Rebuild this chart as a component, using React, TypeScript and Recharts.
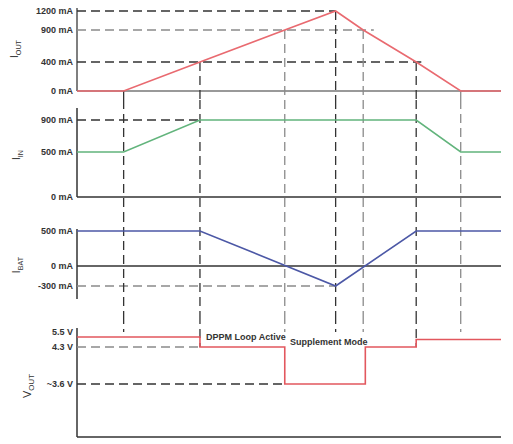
import React from "react";
import { LineChart, Line, XAxis, YAxis, ReferenceLine, ReferenceDot } from "recharts";

// ---------- data ----------
const KEY_TIMES = [11, 29, 49, 61, 67.5, 80, 90.5];
const KEY_DARK = [true, true, false, true, false, true, false];

const IOUT_T = [0, 11, 29, 49, 61, 67.5, 80, 90.5, 100];
const IOUT_V = [0, 0, 400, 900, 1200, 900, 400, 0, 0];

const IIN_T = [0, 11, 29, 80, 90.5, 100];
const IIN_V = [500, 500, 900, 900, 500, 500];

const IBAT_T = [0, 29, 61, 80, 100];
const IBAT_V = [500, 500, -300, 500, 500];

const VOUT_T = [0, 29, 49, 68, 80, 100];
const VOUT_V = [5.1, 4.3, 3.6, 4.3, 4.9, 4.9];

const IOUT_TICKS = [0, 400, 900, 1200];
const IIN_TICKS = [0, 500, 900];
const IBAT_TICKS = [-300, 0, 500];
const VOUT_TICKS = [3.6, 4.3, 5.5];
const VOUT_TICK_LABELS: Record<string, string> = { "3.6": "~3.6 V", "4.3": "4.3 V", "5.5": "5.5 V" };

// ---------- layout ----------
const W = 513;
const LEFT = 77;
const RIGHT = 12;
const FONT = "'Liberation Sans', Arial, sans-serif";
const DARK = "#333333";
const GRAY = "#8a8a8a";
const DASH = "9 5";

type Knot = [number, number]; // [value, page y of that value]

function makePiecewise(knots: Knot[], bandTop: number, bandBot: number) {
  const vals = knots.map((k) => k[0]);
  const fr = knots.map((k) => (bandBot - k[1]) / (bandBot - bandTop));
  const n = vals.length;
  const toFrac = (v: number) => {
    let i = 0;
    while (i < n - 2 && v > vals[i + 1]) i++;
    return fr[i] + ((v - vals[i]) * (fr[i + 1] - fr[i])) / (vals[i + 1] - vals[i]);
  };
  const fromFrac = (f: number) => {
    let i = 0;
    while (i < n - 2 && f > fr[i + 1]) i++;
    return vals[i] + ((f - fr[i]) * (vals[i + 1] - vals[i])) / (fr[i + 1] - fr[i]);
  };
  const create = (dom: number[], rng: number[]): any => {
    const s: any = (v: number) => rng[0] + toFrac(v) * (rng[1] - rng[0]);
    s.domain = (d?: number[]) => {
      if (d === undefined) return dom.slice();
      dom = d.slice();
      return s;
    };
    s.range = (r?: number[]) => {
      if (r === undefined) return rng.slice();
      rng = r.slice();
      return s;
    };
    s.copy = () => create(dom.slice(), rng.slice());
    s.ticks = () => vals.slice();
    s.invert = (px: number) => fromFrac((px - rng[0]) / (rng[1] - rng[0]));
    return s;
  };
  const domain: [number, number] = [fromFrac(0), fromFrac(1)];
  return {
    scale: create(domain.slice(), [1, 0]),
    domain,
    at: (pageY: number) => fromFrac((bandBot - pageY) / (bandBot - bandTop)),
  };
}

const zip = (t: number[], v: number[]) => t.map((tt, i) => ({ t: tt, v: v[i] }));

const tickStyle = { fontSize: 9, fontWeight: 700, fill: DARK, fontFamily: FONT };

function AxisTitle({ x, y, main, sub, size }: { x: number; y: number; main: string; sub: string; size: number }) {
  return (
    <text
      x={x}
      y={y}
      transform={`rotate(-90 ${x} ${y})`}
      textAnchor="middle"
      fontFamily={FONT}
      fontSize={size}
      fill={DARK}
    >
      {main}
      <tspan fontSize={size * 0.72} dy={size * 0.3}>
        {sub}
      </tspan>
    </text>
  );
}

type PanelProps = {
  top: number;
  bottom: number;
  knots: Knot[];
  axisTopY: number;
  axisBottomY: number;
  ticks: number[];
  fmt: (v: number) => string;
  data: { t: number; v: number }[];
  color: string;
  step?: boolean;
  axisColor: string;
  baseColor: string;
  children?: (p: ReturnType<typeof makePiecewise>) => React.ReactNode;
  title: React.ReactNode;
};

function Panel(p: PanelProps) {
  const pw = makePiecewise(p.knots, p.top, p.bottom);
  const h = p.bottom - p.top;
  return (
    <div style={{ position: "absolute", left: 0, top: p.top, width: W, height: h }}>
      <LineChart width={W} height={h} data={p.data} margin={{ top: 0, right: RIGHT, bottom: 0, left: 0 }}>
        <XAxis dataKey="t" type="number" domain={[0, 100]} hide allowDataOverflow />
        <YAxis
          type="number"
          scale={pw.scale}
          domain={pw.domain}
          allowDataOverflow
          ticks={p.ticks}
          tickFormatter={p.fmt}
          tick={tickStyle}
          tickLine={false}
          axisLine={false}
          tickSize={2}
          tickMargin={2}
          width={LEFT}
          interval={0}
        />
        <ReferenceLine y={0} stroke={p.baseColor} strokeWidth={1.5} ifOverflow="visible" />
        <ReferenceLine
          segment={[
            { x: 0, y: pw.at(p.axisBottomY) },
            { x: 0, y: pw.at(p.axisTopY) },
          ]}
          stroke={p.axisColor}
          strokeWidth={1.5}
          ifOverflow="visible"
        />
        {p.children ? p.children(pw) : null}
        <Line
          dataKey="v"
          type={p.step ? "stepAfter" : "linear"}
          stroke={p.color}
          strokeWidth={1.6}
          dot={false}
          isAnimationActive={false}
        />
        {p.title}
      </LineChart>
    </div>
  );
}

const hLine = (v: number, tEnd: number, dark: boolean, key: string) => (
  <ReferenceLine
    key={key}
    segment={[
      { x: 0, y: v },
      { x: tEnd, y: v },
    ]}
    stroke={dark ? DARK : GRAY}
    strokeWidth={1.3}
    strokeDasharray={DASH}
    ifOverflow="visible"
  />
);

const vLine = (t: number, y1: number, y2: number, dark: boolean, key: string) => (
  <ReferenceLine
    key={key}
    segment={[
      { x: t, y: y1 },
      { x: t, y: y2 },
    ]}
    stroke={dark ? DARK : GRAY}
    strokeWidth={1.3}
    strokeDasharray={DASH}
    ifOverflow="visible"
  />
);

const ioutAt = (t: number) => IOUT_V[IOUT_T.indexOf(t)];

export default function App() {
  const mA = (v: number) => `${v} mA`;
  return (
    <div style={{ position: "absolute", left: 0, top: 0, width: W, height: 444, background: "#fff" }}>
      {/* I_OUT */}
      <Panel
        top={0}
        bottom={100}
        knots={[
          [0, 91],
          [400, 62],
          [900, 30],
          [1200, 11],
        ]}
        axisTopY={8}
        axisBottomY={91}
        ticks={IOUT_TICKS}
        fmt={mA}
        data={zip(IOUT_T, IOUT_V)}
        color="#e96a70"
        axisColor="#555"
        baseColor="#777"
        title={<AxisTitle x={18} y={49} main="I" sub="OUT" size={10} />}
      >
        {(pw) => [
          hLine(1200, 61, true, "h1"),
          hLine(900, 70, false, "h2"),
          hLine(400, 81.2, true, "h3"),
          ...KEY_TIMES.map((t, i) => vLine(t, ioutAt(t), pw.domain[0], KEY_DARK[i], "v" + i)),
        ]}
      </Panel>
      {/* I_IN */}
      <Panel
        top={100}
        bottom={213}
        knots={[
          [0, 197],
          [500, 152],
          [900, 120],
        ]}
        axisTopY={108}
        axisBottomY={197}
        ticks={IIN_TICKS}
        fmt={mA}
        data={zip(IIN_T, IIN_V)}
        color="#62b47c"
        axisColor={DARK}
        baseColor={DARK}
        title={<AxisTitle x={20} y={55} main="I" sub="IN" size={10} />}
      >
        {(pw) => [
          hLine(900, 29, true, "h1"),
          ...KEY_TIMES.map((t, i) => vLine(t, pw.domain[1], pw.domain[0], KEY_DARK[i], "v" + i)),
        ]}
      </Panel>
      {/* I_BAT */}
      <Panel
        top={213}
        bottom={315}
        knots={[
          [-300, 286],
          [0, 266],
          [500, 231],
        ]}
        axisTopY={229}
        axisBottomY={299}
        ticks={IBAT_TICKS}
        fmt={mA}
        data={zip(IBAT_T, IBAT_V)}
        color="#4c58a6"
        axisColor={DARK}
        baseColor={DARK}
        title={<AxisTitle x={20} y={52} main="I" sub="BAT" size={10} />}
      >
        {(pw) => [
          hLine(-300, 61, false, "h1"),
          ...KEY_TIMES.map((t, i) => vLine(t, pw.domain[1], pw.domain[0], KEY_DARK[i], "v" + i)),
        ]}
      </Panel>
      {/* V_OUT */}
      <Panel
        top={315}
        bottom={444}
        knots={[
          [0, 437],
          [3.6, 384],
          [4.3, 347],
          [5.5, 332],
        ]}
        axisTopY={328}
        axisBottomY={437}
        ticks={VOUT_TICKS}
        fmt={(v) => VOUT_TICK_LABELS[String(v)]}
        data={zip(VOUT_T, VOUT_V)}
        color="#e2575e"
        step
        axisColor={DARK}
        baseColor={DARK}
        title={<AxisTitle x={31} y={71} main="V" sub="OUT" size={11} />}
      >
        {(pw) => [
          hLine(4.3, 29, false, "h1"),
          hLine(3.6, 49, true, "h2"),
          ...KEY_TIMES.map((t, i) =>
            vLine(t, pw.domain[1], t === 29 || t === 80 ? 4.3 : 5.5, KEY_DARK[i], "v" + i)
          ),
          <ReferenceDot
            key="d1"
            x={30.2}
            y={5.1}
            r={1}
            fill="none"
            stroke="none"
            ifOverflow="visible"
            label={{ value: "DPPM Loop Active", position: "right", offset: 0, fill: DARK, fontSize: 9, fontWeight: 700, fontFamily: FONT }}
          />,
          <ReferenceDot
            key="d2"
            x={50}
            y={4.7}
            r={1}
            fill="none"
            stroke="none"
            ifOverflow="visible"
            label={{ value: "Supplement Mode", position: "right", offset: 0, fill: DARK, fontSize: 9, fontWeight: 700, fontFamily: FONT }}
          />,
        ]}
      </Panel>
    </div>
  );
}
